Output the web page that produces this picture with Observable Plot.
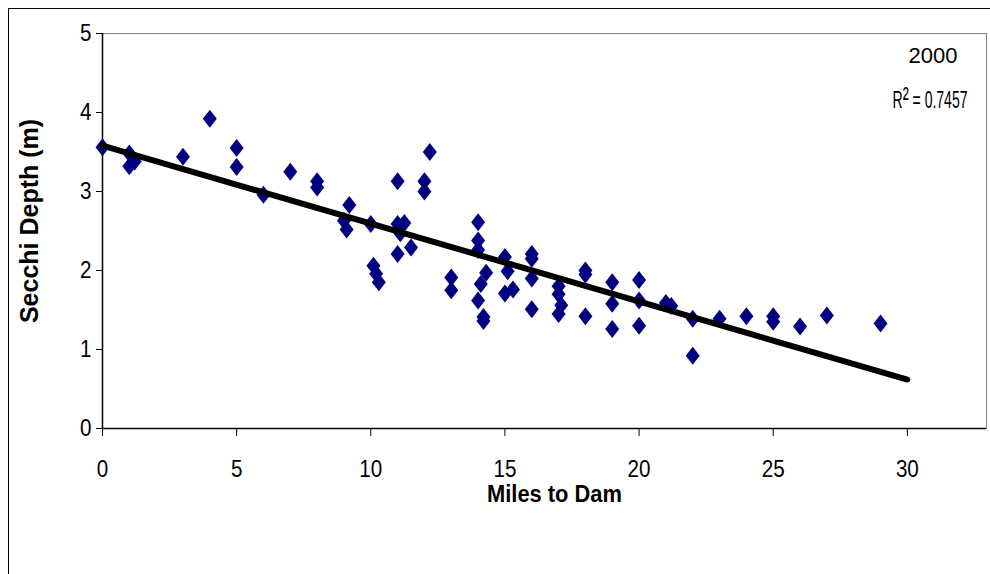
<!DOCTYPE html>
<html>
<head>
<meta charset="utf-8">
<script src="https://cdn.jsdelivr.net/npm/d3@7"></script>
<script src="https://cdn.jsdelivr.net/npm/@observablehq/plot@0.6"></script>
<style>
  html, body { margin: 0; padding: 0; overflow: hidden; background: #fff; }
  #wrap { position: relative; width: 990px; height: 574px; }
  #outer { position: absolute; left: 8px; top: 8px; width: 990px; height: 574px; border: 1px solid #000; box-sizing: border-box; pointer-events: none; }
  #chart { position: absolute; left: 0; top: 0; }
</style>
</head>
<body>
<div id="wrap"><div id="chart"></div><div id="outer"></div></div>
<script>
// Miles to dam (x) and Secchi depth in metres (y), year 2000
const milesToDam = [0, 1, 1, 1.2, 3, 4, 5, 5, 6, 7, 8, 8, 9, 9.1, 9.2, 10, 10.1, 10.2, 10.3,
  11, 11, 11.25, 11.1, 11, 11.5, 12, 12, 12.2, 13, 13, 14, 14, 14, 14.3, 14.1, 14, 14.2, 14.2,
  15, 15.1, 15, 15.3, 16, 16, 16, 16, 17, 17, 17.1, 17, 18, 18, 18, 19, 19, 19, 20, 20, 20,
  21, 21.2, 22, 22, 23, 24, 25, 25, 26, 27, 29];
const secchiDepth = [3.56, 3.48, 3.32, 3.38, 3.44, 3.92, 3.55, 3.31, 2.96, 3.25, 3.13, 3.05, 2.63, 2.52, 2.83, 2.59, 2.06, 1.96, 1.85,
  3.13, 2.59, 2.6, 2.47, 2.21, 2.29, 3.13, 3.0, 3.5, 1.91, 1.75, 2.61, 2.38, 2.26, 1.97, 1.83, 1.62, 1.41, 1.36,
  2.17, 1.99, 1.71, 1.76, 2.21, 2.15, 1.9, 1.51, 1.8, 1.7, 1.56, 1.45, 2.0, 1.95, 1.42, 1.85, 1.58, 1.26, 1.88, 1.62, 1.3,
  1.59, 1.55, 1.39, 0.92, 1.39, 1.42, 1.42, 1.35, 1.29, 1.43, 1.33];

// Linear trend line
const trendMiles = [0, 30];
const trendDepth = [3.58, 0.62];

const xTicks = [0, 5, 10, 15, 20, 25, 30];
const yTicks = [0, 1, 2, 3, 4, 5];
const yearLabel = "2000";
const r2Label = "R² = 0.7457";
const xTitle = "Miles to Dam";
const yTitle = "Secchi Depth (m)";

const points = milesToDam.map((m, i) => ({miles: m, depth: secchiDepth[i]}));
const trend = trendMiles.map((m, i) => ({miles: m, depth: trendDepth[i]}));

const diamond = {
  draw(context) {
    const w = 7, h = 9;
    context.moveTo(0, -h);
    context.lineTo(w, 0);
    context.lineTo(0, h);
    context.lineTo(-w, 0);
    context.closePath();
  }
};

const sans = "'Liberation Sans', Arial, sans-serif";

const chart = Plot.plot({
  width: 990,
  height: 574,
  marginLeft: 102,
  marginRight: 4,
  marginTop: 33,
  marginBottom: 146,
  style: {fontFamily: sans, background: "transparent", color: "#000"},
  x: {domain: [0, 32.95], label: null},
  y: {domain: [0, 5], label: null},
  marks: [
    Plot.frame({stroke: "#808080", strokeWidth: 1}),
    Plot.axisY({ticks: yTicks, tickSize: 6, tickPadding: 5, fontSize: 24, stroke: "#000", tickFormat: d => String(d)}),
    Plot.axisX({ticks: xTicks, tickSize: 8, tickPadding: 23, fontSize: 24, stroke: "#000", tickFormat: d => String(d)}),
    Plot.ruleX([0], {stroke: "#000", strokeWidth: 1.5}),
    Plot.ruleY([0], {stroke: "#000", strokeWidth: 1.5}),
    Plot.dot(points, {x: "miles", y: "depth", symbol: diamond, fill: "#000080", stroke: "none"}),
    Plot.line(trend, {x: "miles", y: "depth", stroke: "#000", strokeWidth: 6, strokeLinecap: "round"}),
    Plot.text([yearLabel], {frameAnchor: "top-right", dx: -29, dy: 14, fontSize: 22, fill: "#000", text: d => d, textAnchor: "end", lineAnchor: "top"}),
    Plot.text([r2Label], {frameAnchor: "top-right", dx: -19, dy: 57, fontSize: 24, fill: "#000", text: d => d, textAnchor: "end", lineAnchor: "top"}),
    Plot.text([xTitle], {frameAnchor: "bottom", dx: 10, dy: 56, fontSize: 24, fontWeight: "bold", fill: "#000", text: d => d, lineAnchor: "top"}),
    Plot.text([yTitle], {frameAnchor: "left", dx: -73, dy: -10, rotate: -90, fontSize: 25, fontWeight: "bold", fill: "#000", text: d => d, textAnchor: "middle", lineAnchor: "middle", letterSpacing: "1.3px"})
  ]
});
document.getElementById("chart").appendChild(chart);

// Squeeze text horizontally around its anchor (the original uses condensed glyphs)
function squeeze(el, f) {
  const t = el.getAttribute("transform");
  if (t) {
    el.setAttribute("transform", `${t} scale(${f},1)`);
  } else {
    const x = +(el.getAttribute("x") || 0), y = +(el.getAttribute("y") || 0);
    el.setAttribute("transform", `translate(${x},${y}) scale(${f},1) translate(${-x},${-y})`);
  }
}
chart.querySelectorAll("g[aria-label='y-axis tick label'] text, g[aria-label='x-axis tick label'] text").forEach(el => squeeze(el, 0.86));
const SVGNS = "http://www.w3.org/2000/svg";
chart.querySelectorAll("g[aria-label='text'] text").forEach(el => {
  const t = el.textContent;
  if (t === r2Label) {
    el.textContent = "";
    const parts = [["R", null], ["²", 31], [" = 0.7457", null]];
    for (const [s, fs] of parts) {
      const ts = document.createElementNS(SVGNS, "tspan");
      ts.textContent = s;
      if (fs) ts.setAttribute("font-size", fs);
      el.appendChild(ts);
    }
    squeeze(el, 75 / el.getComputedTextLength());
  } else if (t === xTitle) {
    squeeze(el, 135 / el.getComputedTextLength());
  }
});
</script>
</body>
</html>
